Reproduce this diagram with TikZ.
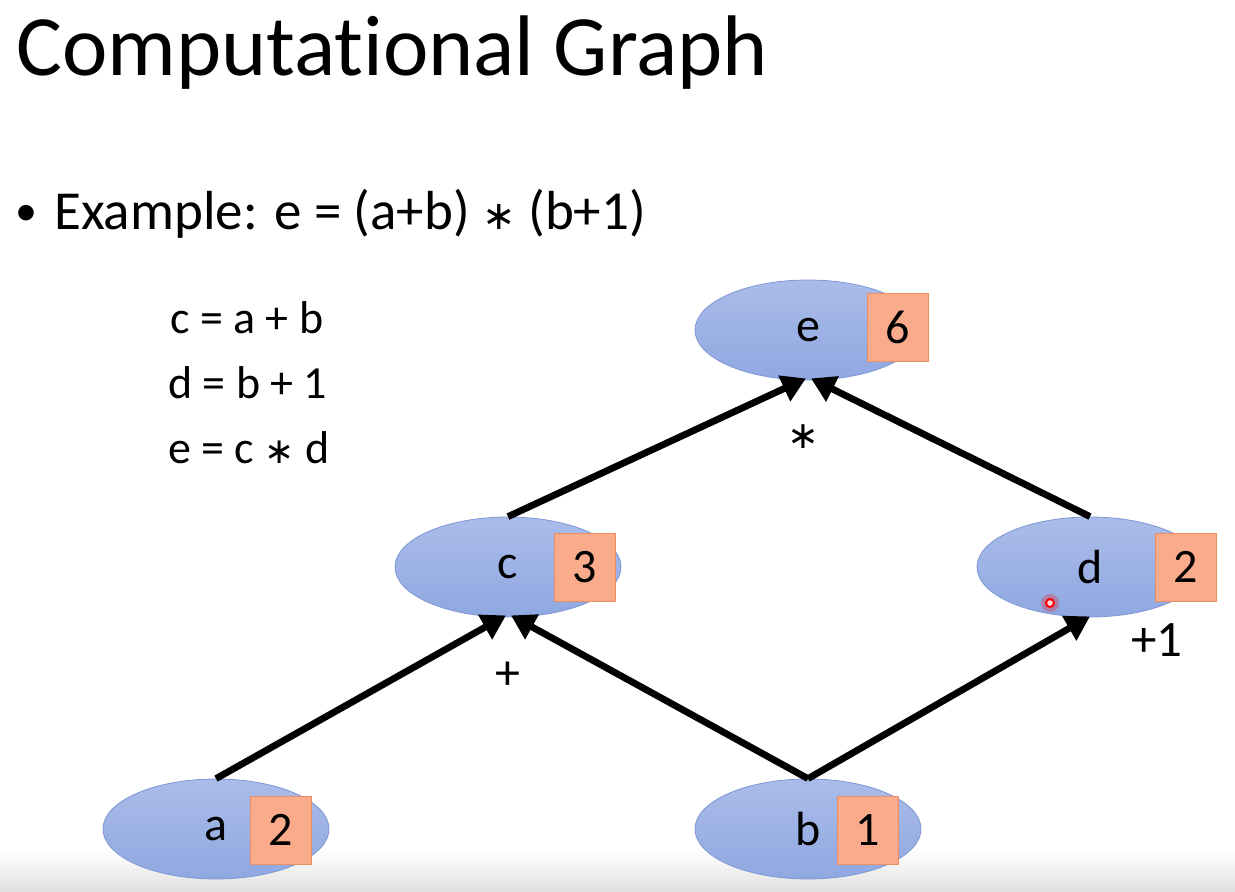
\documentclass[tikz,border=0pt]{standalone}
\usepackage{fontspec}
\setmainfont{Carlito}[Ligatures={NoCommon,NoRequired,NoContextual}]
\newfontfamily\symfnt{DejaVu Sans}
\newcommand{\astop}{{\symfnt ∗}}
\usetikzlibrary{shapes.geometric,arrows.meta}
\definecolor{elltop}{HTML}{AABCE9}
\definecolor{ellbot}{HTML}{90A8E1}
\definecolor{elledge}{HTML}{7E97D4}
\definecolor{boxfill}{HTML}{F9AB8C}
\definecolor{boxedge}{HTML}{EE8E60}
\tikzset{
  vnode/.style={ellipse, minimum width=226pt, minimum height=100pt, inner sep=0pt,
    top color=elltop, bottom color=ellbot, draw=elledge, line width=0.8pt,
    font=\fontsize{48}{56}\selectfont, text=black},
  valbox/.style={rectangle, minimum width=61pt, minimum height=68pt, inner sep=0pt,
    fill=boxfill, draw=boxedge, line width=1pt, font=\fontsize{48}{56}\selectfont},
  edge/.style={line width=6.8pt, -{Triangle[length=24pt,width=27pt]}},
  oplabel/.style={font=\fontsize{50}{56}\selectfont},
  eqtext/.style={font=\fontsize{46}{52}\selectfont, anchor=base west, inner sep=0pt},
}
\begin{document}
\begin{tikzpicture}[x=1pt,y=-1pt]
\useasboundingbox (0,0) rectangle (1235,892);
% bottom gray band
\shade[top color=white, bottom color=black!12] (0,850) rectangle (1235,892);
% title
\node[anchor=base west, inner sep=0pt, font=\fontsize{86}{96}\selectfont] (title) at (16,75) {Computational Graph};
% bullet
\node[anchor=base west, inner sep=0pt, font=\fontsize{44}{50}\selectfont] (dot) at (15,225) {•};
\node[anchor=base west, inner sep=0pt, font=\fontsize{55}{64}\selectfont] (bullet) at (54,229) {Example: e = (a+b) {\fontsize{40}{48}\selectfont\astop} (b+1)};
% equations
\node[eqtext] (eq1) at (170,333) {c = a + b};
\node[eqtext] (eq2) at (168,398) {d = b + 1};
\node[eqtext] (eq3) at (168,463) {e = c {\fontsize{36}{40}\selectfont\astop} d};
% ellipses
\node[vnode] (e) at (808,330) {e};
\node[vnode] (c) at (508,567) {c};
\node[vnode] (d) at (1090,567) {d};
\node[vnode] (a) at (216,829) {a};
\node[vnode] (b) at (808,829) {b};
% value boxes
\node[valbox] (ev) at (898,327) {6};
\node[valbox] (cv) at (585,567) {3};
\node[valbox] (dv) at (1186,567) {2};
\node[valbox] (av) at (281,830) {2};
\node[valbox] (bv) at (868,830) {1};
% arrows
\draw[edge] (a.north) -- ([xshift=-2pt,yshift=2pt]c.south);
\draw[edge] (b.north) -- ([xshift=3pt,yshift=2pt]c.south);
\draw[edge] (b.north) -- ([yshift=1pt]d.south);
\draw[edge] (c.north) -- ([xshift=-2pt,yshift=2pt]e.south);
\draw[edge] (d.north) -- ([xshift=3pt,yshift=2pt]e.south);
% operation labels
\node[oplabel, font=\fontsize{38}{44}\selectfont] (mul) at (803,437) {\astop};
\node[oplabel] (plus) at (508,676) {+};
\node[oplabel, font=\fontsize{51}{58}\selectfont] (plusone) at (1157,640) {+1};
% laser pointer dot
\fill[red, opacity=0.25] (1050,603) circle (9pt);
\draw[red, line width=2pt, fill=red!15] (1050,603) circle (4pt);
\end{tikzpicture}
\end{document}
